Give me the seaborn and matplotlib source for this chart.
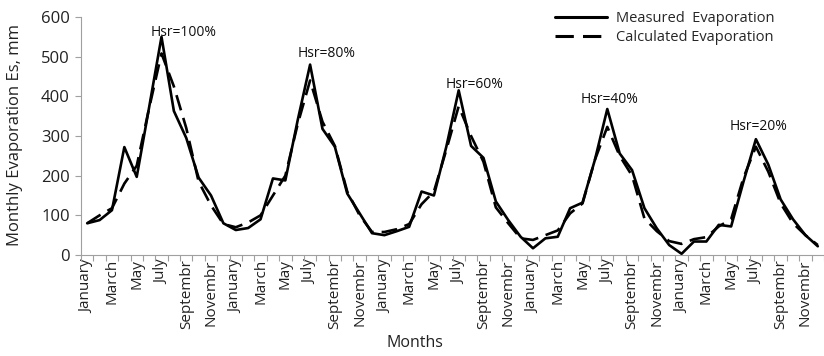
import matplotlib
matplotlib.use("Agg")
import matplotlib.pyplot as plt
import seaborn as sns
import pandas as pd
import numpy as np

months = ["January", "February", "March", "April", "May", "June", "July",
          "August", "Septembr", "October", "Novembr", "December"]
years = 5

measured = [80, 88, 113, 272, 197, 372, 550, 363, 295, 195, 150, 80,
            63, 68, 90, 193, 188, 340, 480, 318, 273, 155, 105, 55,
            50, 60, 71, 160, 150, 273, 415, 275, 245, 135, 88, 46,
            17, 42, 46, 118, 132, 240, 368, 256, 214, 118, 67, 25,
            3, 34, 34, 76, 72, 185, 292, 228, 140, 90, 50, 22]
calculated = [80, 100, 118, 180, 225, 370, 508, 425, 320, 185, 125, 78,
              70, 82, 100, 150, 200, 330, 440, 336, 275, 160, 100, 58,
              58, 65, 78, 128, 160, 265, 375, 300, 235, 120, 80, 42,
              38, 50, 62, 105, 130, 240, 323, 250, 200, 92, 60, 35,
              28, 40, 45, 72, 90, 195, 273, 210, 130, 80, 50, 25]
hsr_labels = ["Hsr=100%", "Hsr=80%", "Hsr=60%", "Hsr=40%", "Hsr=20%"]
hsr_x = [7.8, 19.3, 31.3, 42.2, 54.2]
hsr_y = [562, 509, 431, 391, 325]

sns.set_theme(style="white")
plt.rcParams['font.family'] = ['Open Sans', 'DejaVu Sans']

n = len(measured)
idx = np.arange(n)
df = pd.DataFrame({
    "idx": np.concatenate([idx, idx]),
    "value": measured + calculated,
    "series": ["Measured  Evaporation"] * n + ["Calculated Evaporation"] * n,
})

fig = plt.figure(figsize=(8.24, 3.56), dpi=100)
ax = fig.add_axes([81 / 824, 1 - 255 / 356, 1 - 81 / 824, (255 - 17) / 356])

sns.lineplot(data=df, x="idx", y="value", style="series", color="black",
             linewidth=1.9, dashes={"Measured  Evaporation": "",
                                    "Calculated Evaporation": (6, 3)},
             ax=ax, legend=True)

ax.set_xlim(-0.46, 58.6)
ax.set_ylim(0, 600)
ax.set_yticks([0, 100, 200, 300, 400, 500, 600])
major = list(range(0, n, 2))
ax.set_xticks(major)
ax.set_xticklabels([months[i % 12] for i in major], rotation=90)
ax.set_xticks(np.arange(-0.5, n, 1), minor=True)
ax.tick_params(axis="x", which="major", length=0, labelsize=11, pad=3,
               colors="#222222")
ax.tick_params(axis="x", which="minor", length=4, color="#a0a0a0", width=0.8,
               direction="out", bottom=True)
ax.tick_params(axis="y", which="major", length=4, color="#a0a0a0", width=0.8,
               direction="out", left=True, labelsize=12, labelcolor="#222222",
               pad=4)
for s in ["top", "right"]:
    ax.spines[s].set_visible(False)
for s in ["left", "bottom"]:
    ax.spines[s].set_color("#a0a0a0")
    ax.spines[s].set_linewidth(0.8)

ax.set_xlabel("Months", fontsize=11.5, color="#222222")
ax.xaxis.set_label_coords((415 - 81) / (824 - 81), -(343 - 255) / (255 - 17))
ax.xaxis.label.set_va("center")
ax.set_ylabel("Monthly Evaporation Es, mm", fontsize=12, color="#222222")
ax.yaxis.set_label_coords(-(81 - 15) / (824 - 81), (255 - 135) / (255 - 17))
ax.yaxis.label.set_va("center")

for t, x, y in zip(hsr_labels, hsr_x, hsr_y):
    ax.text(x, y, t, ha="center", va="center", fontsize=10, color="#111111")

leg = ax.legend(loc="upper left", bbox_to_anchor=(0.63, 1.05), frameon=False,
                fontsize=10.5, handlelength=3.6, handletextpad=0.6,
                labelspacing=0.3, borderaxespad=0)
for line in leg.get_lines():
    line.set_linewidth(2.2)

fig.savefig("out.png", dpi=100)
